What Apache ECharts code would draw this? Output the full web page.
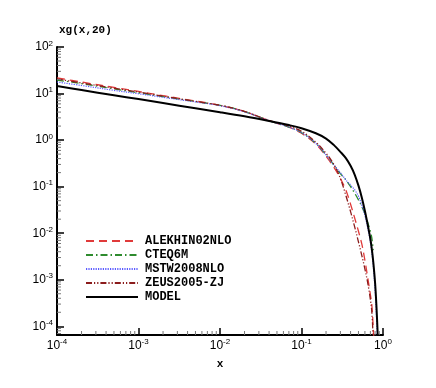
<!DOCTYPE html>
<html>
<head>
<meta charset="utf-8">
<script src="https://cdn.jsdelivr.net/npm/echarts@6/dist/echarts.min.js"></script>
<style>
  html, body { margin: 0; padding: 0; background: #fff; }
  #chart { width: 436px; height: 388px; }
</style>
</head>
<body>
<div id="chart"></div>
<script>
// x grid shared by all curves
const xs = [1e-4, 2e-4, 5e-4, 1e-3, 2e-3, 5e-3, 0.01, 0.02, 0.04, 0.07, 0.1, 0.15, 0.2, 0.25, 0.3,
  0.35, 0.4, 0.45, 0.5, 0.55, 0.6, 0.65, 0.7, 0.73, 0.76, 0.8, 0.83, 0.86, 0.88]

const alekhin = [21.6, 17.7, 13.5, 11.1, 9.0, 6.9, 5.6, 4.1, 2.6, 1.9, 1.4, 0.82, 0.45, 0.26, 0.15,
  0.085, 0.042, 0.021, 0.011, 0.0058, 0.0026, 0.0011, 4.8e-4, 2.8e-4, 9e-5, 2e-5, null, null, null]
const cteq = [19.5, 16.3, 12.6, 10.4, 8.6, 6.7, 5.6, 4.1, 2.6, 1.9, 1.45, 0.85, 0.48, 0.29, 0.19,
  0.14, 0.1, 0.072, 0.052, 0.037, 0.026, 0.017, 0.011, 0.0078, 0.0043, null, null, null, null]
const mstw = [17.7, 14.9, 11.7, 9.9, 8.3, 6.6, 5.5, 4.05, 2.6, 1.9, 1.45, 0.85, 0.48, 0.29, 0.2,
  0.14, 0.108, 0.085, 0.062, 0.04, 0.024, 0.013, 0.0065, 0.0038, 0.002, 6e-4, 1.8e-4, 4e-5, null]
const zeus = [20.5, 16.9, 13.0, 10.8, 8.8, 6.8, 5.6, 4.15, 2.65, 2.0, 1.55, 0.9, 0.52, 0.3, 0.15,
  0.065, 0.029, 0.0135, 0.0065, 0.0033, 0.0017, 8.5e-4, 3.8e-4, 2e-4, 5e-5, null, null, null, null]
const model = [14.5, 11.9, 9.2, 7.6, 6.25, 4.83, 3.98, 3.24, 2.57, 2.1, 1.8, 1.4, 1.08, 0.78, 0.56,
  0.41, 0.28, 0.18, 0.105, 0.058, 0.03, 0.015, 0.0075, 0.0045, 0.0024, 8.5e-4, 2.8e-4, 7e-5, 2.5e-5]

const seriesNames = ['ALEKHIN02NLO', 'CTEQ6M', 'MSTW2008NLO', 'ZEUS2005-ZJ', 'MODEL']
const xMin = 1e-4, xMax = 1
const yMin = 6.5e-5, yMax = 100

function pairs (ys) {
  const out = []
  for (let i = 0; i < xs.length; i++) {
    if (ys[i] != null) out.push([xs[i], ys[i]])
  }
  return out
}

// minor ticks at 2..9 x 10^k
const minorX = [], minorY = []
for (let k = -4; k < 0; k++) {
  for (let m = 2; m <= 9; m++) minorX.push([m * Math.pow(10, k), yMin])
}
for (let k = -5; k < 2; k++) {
  for (let m = 2; m <= 9; m++) {
    const v = m * Math.pow(10, k)
    if (v > yMin && v < yMax) minorY.push([xMin, v])
  }
}

function tickItem (len, dir) {
  return function (params, api) {
    const p = api.coord([api.value(0), api.value(1)])
    const end = dir === 'x' ? [p[0], p[1] - len] : [p[0] + len, p[1]]
    return {
      type: 'line',
      shape: { x1: p[0], y1: p[1], x2: end[0], y2: end[1] },
      style: { stroke: '#777', lineWidth: 1 }
    }
  }
}

function powLabel (v) {
  const e = Math.log10(v)
  const r = Math.round(e)
  if (Math.abs(e - r) > 1e-6) return ''
  return '{b|10}{e|' + r + '}'
}

const labelRich = {
  b: { fontSize: 12, fontFamily: 'Liberation Sans', color: '#000' },
  e: { fontSize: 8, fontFamily: 'Liberation Sans', color: '#000', padding: [0, 0, 7, 0] }
}

const lineDefs = [
  { data: alekhin, color: '#e03a3a', type: [8, 5], width: 1.3 },
  { data: cteq, color: '#2e8b2e', type: [7, 3, 1.5, 3], width: 1.3 },
  { data: mstw, color: '#5a5aff', type: [1.2, 1.2], width: 1.2 },
  { data: zeus, color: '#8b1c1c', type: [6, 2, 1.2, 2, 1.2, 2], width: 1.3 },
  { data: model, color: '#000000', type: 'solid', width: 2 }
]

const chart = echarts.init(document.getElementById('chart'))
chart.setOption({
  animation: false,
  title: {
    text: 'xg(x,20)',
    left: 59,
    top: 25,
    padding: 0,
    textStyle: { fontFamily: 'Liberation Mono', fontWeight: 'bold', fontSize: 11, color: '#000' }
  },
  legend: {
    orient: 'vertical',
    left: 80,
    top: 230,
    itemWidth: 52,
    itemHeight: 14,
    itemGap: 2,
    data: seriesNames,
    itemStyle: { opacity: 0 },
    textStyle: { fontFamily: 'Liberation Mono', fontWeight: 'bold', fontSize: 12, color: '#000', padding: [0, 0, 0, 2] }
  },
  grid: { left: 57, right: 53, top: 47, bottom: 53 },
  xAxis: {
    type: 'log',
    min: xMin,
    max: xMax,
    logBase: 10,
    name: 'x',
    nameLocation: 'middle',
    nameGap: 24,
    nameTextStyle: { fontFamily: 'Liberation Mono', fontWeight: 'bold', fontSize: 11, color: '#000' },
    axisLine: { lineStyle: { color: '#000', width: 2 } },
    axisTick: { inside: true, length: 7, lineStyle: { color: '#000', width: 1.5 } },
    axisLabel: { margin: 3, formatter: powLabel, rich: labelRich },
    splitLine: { show: false }
  },
  yAxis: {
    type: 'log',
    min: yMin,
    max: yMax,
    logBase: 10,
    axisLine: { lineStyle: { color: '#000', width: 2 } },
    axisTick: { inside: true, length: 7, lineStyle: { color: '#000', width: 1.5 } },
    axisLabel: { margin: 4, formatter: powLabel, rich: labelRich, showMinLabel: false },
    splitLine: { show: false }
  },
  series: lineDefs.map((d, i) => ({
    name: seriesNames[i],
    type: 'line',
    data: pairs(d.data),
    symbol: 'none',
    smooth: 0.35,
    clip: true,
    z: i === 4 ? 3 : 2,
    itemStyle: { color: d.color },
    lineStyle: { color: d.color, type: d.type, width: d.width }
  })).concat([
    {
      type: 'custom',
      silent: true,
      clip: false,
      renderItem: tickItem(4, 'x'),
      data: minorX,
      z: 5
    },
    {
      type: 'custom',
      silent: true,
      clip: false,
      renderItem: tickItem(4, 'y'),
      data: minorY,
      z: 5
    }
  ])
})
</script>
</body>
</html>
